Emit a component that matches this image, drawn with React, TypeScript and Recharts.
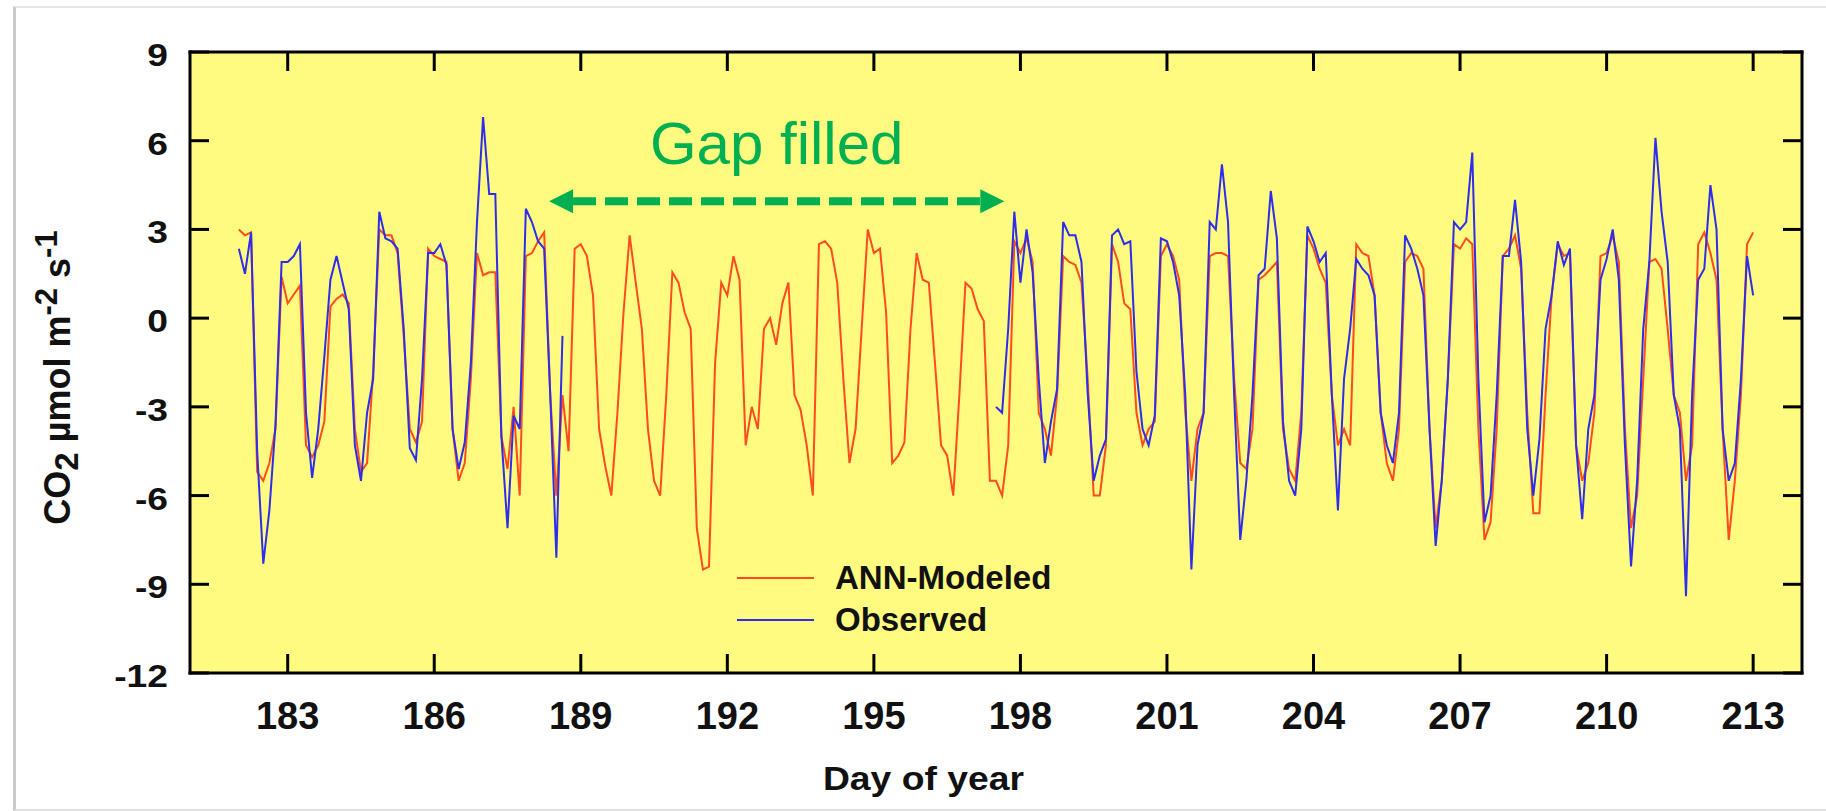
import React from "react";
import { LineChart, Line, XAxis, YAxis, CartesianGrid, ReferenceLine, Legend, Label } from "recharts";

// ---------- data ----------
const FIRST_DAY = 182;
const SAMPLES_PER_DAY = 8; // one value every 3 hours
const X_TICKS = [183, 186, 189, 192, 195, 198, 201, 204, 207, 210, 213];
const Y_TICKS = [-12, -9, -6, -3, 0, 3, 6, 9];
const X_DOMAIN: [number, number] = [181, 214];
const Y_DOMAIN: [number, number] = [-12, 9];
const SERIES_NAMES = ["ANN-Modeled", "Observed"];
const GAP_LABEL = "Gap filled";
const GAP_START = 188.35;
const GAP_END = 197.67;
const GAP_LEVEL = 3.95;

// ANN-modeled CO2 flux (µmol m-2 s-1), 8 values per day
const annModeled: number[] = [
  3.0, 2.8, 2.9, -5.2, -5.5, -4.9, -3.75, 1.4, // 182
  0.5, 0.8, 1.1, -4.3, -4.7, -4.3, -3.5, 0.4, // 183
  0.65, 0.8, 0.5, -3.75, -5.2, -4.9, -1.8, 3.0, // 184
  2.8, 2.8, 2.2, -0.6, -3.75, -4.2, -3.5, 2.35, // 185
  2.1, 2.0, 1.9, -3.75, -5.5, -4.9, -2.05, 2.2, // 186
  1.45, 1.55, 1.55, -4.0, -5.1, -3.0, -6.0, 2.1, // 187
  2.2, 2.6, 2.9, -2.6, -6.0, -2.6, -4.5, 2.35, // 188
  2.5, 2.1, 0.77, -3.75, -5.0, -6.0, -3.2, 0.2, // 189
  2.8, 1.2, -0.36, -3.75, -5.5, -6.0, -2.6, 1.55, // 190
  1.2, 0.2, -0.36, -7.1, -8.5, -8.4, -1.5, 1.2, // 191
  0.77, 2.1, 1.3, -4.3, -3.0, -3.75, -0.36, 0.0, // 192
  -0.9, 0.5, 1.2, -2.6, -3.1, -4.3, -6.0, 2.5, // 193
  2.6, 2.35, 1.2, -2.05, -4.9, -3.75, -0.36, 3.0, // 194
  2.2, 2.35, 0.2, -4.9, -4.65, -4.2, -0.36, 2.2, // 195
  1.3, 1.2, -1.5, -4.3, -4.65, -6.0, -2.6, 1.2, // 196
  1.0, 0.3, -0.1, -5.5, -5.5, -6.0, -4.3, 2.6, // 197
  2.2, 2.7, 1.9, -3.2, -3.75, -4.65, -2.6, 2.1, // 198
  1.9, 1.8, 1.2, -2.0, -6.0, -6.0, -4.3, 2.5, // 199
  1.9, 0.5, 0.3, -3.2, -4.3, -3.75, -3.5, 2.1, // 200
  2.5, 2.1, 1.3, -3.2, -5.5, -3.75, -3.2, 2.1, // 201
  2.2, 2.2, 2.1, -2.05, -4.9, -5.1, -3.75, 1.3, // 202
  1.45, 1.67, 1.9, -3.75, -5.1, -5.5, -3.2, 2.8, // 203
  2.35, 1.67, 1.2, -2.6, -4.3, -3.75, -4.3, 2.5, // 204
  2.2, 2.1, 0.77, -3.2, -4.9, -5.5, -3.75, 1.9, // 205
  2.2, 2.1, 1.67, -3.75, -7.1, -5.5, -2.05, 2.5, // 206
  2.35, 2.7, 2.5, -3.75, -7.5, -6.9, -3.75, 2.1, // 207
  2.35, 2.8, 1.67, -3.2, -6.6, -6.6, -2.6, 0.77, // 208
  2.5, 2.1, 2.2, -4.3, -5.5, -4.9, -3.2, 2.1, // 209
  2.2, 2.8, 1.9, -3.75, -7.1, -6.0, -2.05, 1.9, // 210
  2.0, 1.67, -0.36, -2.6, -3.2, -5.5, -4.3, 2.5, // 211
  2.9, 2.2, 1.3, -3.75, -7.5, -5.5, -2.6, 2.5, // 212
  2.9, // 213
];

// Observed CO2 flux, null where the record is missing (the gap)
const N = null;
const observed: (number | null)[] = [
  2.35, 1.5, 2.9, -4.5, -8.3, -6.5, -3.6, 1.9, // 182
  1.9, 2.1, 2.5, -3.2, -5.4, -3.75, -1.3, 1.3, // 183
  2.1, 1.2, 0.3, -4.3, -5.5, -3.2, -2.05, 3.6, // 184
  2.7, 2.6, 2.35, -0.36, -4.4, -4.8, -2.05, 2.2, // 185
  2.2, 2.5, 1.8, -3.75, -5.1, -4.2, -1.5, 3.25, // 186
  6.8, 4.2, 4.2, -4.0, -7.1, -3.3, -3.75, 3.7, // 187
  3.25, 2.6, 2.35, -2.6, -8.1, -0.6, N, N, // 188
  N, N, N, N, N, N, N, N, // 189
  N, N, N, N, N, N, N, N, // 190
  N, N, N, N, N, N, N, N, // 191
  N, N, N, N, N, N, N, N, // 192
  N, N, N, N, N, N, N, N, // 193
  N, N, N, N, N, N, N, N, // 194
  N, N, N, N, N, N, N, N, // 195
  N, N, N, N, N, N, N, N, // 196
  N, N, N, N, -3.0, -3.2, -0.36, 3.6, // 197
  1.2, 3.0, 1.55, -2.05, -4.9, -3.5, -2.4, 3.25, // 198
  2.8, 2.8, 1.9, -2.5, -5.5, -4.65, -4.1, 2.8, // 199
  3.0, 2.5, 2.6, -1.8, -3.75, -4.3, -3.3, 2.7, // 200
  2.6, 1.9, 0.77, -2.6, -8.5, -4.3, -3.2, 3.25, // 201
  3.0, 5.2, 3.25, -2.6, -7.5, -5.5, -2.6, 1.45, // 202
  1.67, 4.3, 2.7, -3.5, -5.5, -6.0, -3.75, 3.1, // 203
  2.6, 1.9, 2.2, -2.6, -6.5, -2.05, -0.36, 2.0, // 204
  1.67, 1.45, 0.77, -3.2, -4.3, -4.9, -3.2, 2.8, // 205
  2.35, 1.67, 0.77, -3.75, -7.7, -5.5, -2.05, 3.25, // 206
  3.0, 3.25, 5.6, -2.05, -6.9, -6.0, -2.6, 2.1, // 207
  2.1, 4.0, 1.9, -3.75, -6.0, -4.1, -0.36, 0.77, // 208
  2.6, 1.8, 2.35, -4.3, -6.8, -3.75, -2.6, 1.3, // 209
  2.0, 3.0, 1.3, -4.3, -8.4, -5.5, -0.36, 1.9, // 210
  6.1, 3.6, 1.9, -2.6, -3.75, -9.4, -2.6, 1.3, // 211
  1.67, 4.5, 3.0, -3.75, -5.5, -4.9, -2.05, 2.1, // 212
  0.77, // 213
];

const data = annModeled.map((v, i) => ({
  day: FIRST_DAY + i / SAMPLES_PER_DAY,
  modeled: v,
  observed: observed[i] ?? null,
}));

// ---------- styling ----------
const FONT = "'Liberation Sans', Arial, Helvetica, sans-serif";
const RED = "#FF4B1E";
const BLUE = "#2D2DEB";
const GREEN = "#00B050";
const BG = "#FFFB80";
const TICK_LEN = 19;
const AXIS = { stroke: "#000", strokeWidth: 3, strokeLinecap: "square" as const };

const BottomTick = (p: any) => (
  <g>
    <line x1={p.x} x2={p.x} y1={p.y} y2={p.y - TICK_LEN} stroke="#000" strokeWidth={3} />
    <text x={p.x} y={p.y + 56} textAnchor="middle" fontSize={38} fontWeight={700} fontFamily={FONT} fill="#111">
      {p.payload.value}
    </text>
  </g>
);
const TopTick = (p: any) => (
  <line x1={p.x} x2={p.x} y1={p.y} y2={p.y + TICK_LEN} stroke="#000" strokeWidth={3} />
);
const LeftTick = (p: any) => (
  <g>
    <line x1={p.x} x2={p.x + TICK_LEN} y1={p.y} y2={p.y} stroke="#000" strokeWidth={3} />
    <text
      transform={`translate(${p.x - 22},${p.y + 14}) scale(1.2,1)`}
      textAnchor="end"
      fontSize={31}
      fontWeight={700}
      fontFamily={FONT}
      fill="#111"
    >
      {p.payload.value}
    </text>
  </g>
);
const RightTick = (p: any) => (
  <line x1={p.x} x2={p.x - TICK_LEN} y1={p.y} y2={p.y} stroke="#000" strokeWidth={3} />
);

const XTitle = (p: any) => {
  const vb = p.viewBox;
  return (
    <text
      transform={`translate(${vb.x + vb.width * 0.455},${vb.y + 117}) scale(1.13,1)`}
      textAnchor="middle"
      fontSize={33}
      fontWeight={700}
      fontFamily={FONT}
      fill="#111"
    >
      Day of year
    </text>
  );
};

const YTitle = (p: any) => {
  const vb = p.viewBox;
  const cx = vb.x - 52;
  const cy = vb.y + vb.height / 2 + 15;
  return (
    <text
      transform={`translate(${cx + 12},${cy}) rotate(-90)`}
      textAnchor="middle"
      fontSize={36}
      fontWeight={700}
      fontFamily={FONT}
      fill="#111"
    >
      CO
      <tspan fontSize={33} dy={8}>2</tspan>
      <tspan dy={-8}> µmol m</tspan>
      <tspan fontSize={31} dy={-13}>-2</tspan>
      <tspan dy={13}> s</tspan>
      <tspan fontSize={31} dy={-13}>-1</tspan>
    </text>
  );
};

const GapArrow = (p: any) => {
  const { x1, x2, y1 } = p;
  const head = 24;
  const half = 12;
  const mid = (x1 + x2) / 2;
  return (
    <g>
      <line
        x1={x1 + head}
        x2={x2 - head}
        y1={y1}
        y2={y1}
        stroke={GREEN}
        strokeWidth={8}
        strokeDasharray="23 9"
      />
      <polygon points={`${x1},${y1} ${x1 + head},${y1 - half} ${x1 + head},${y1 + half}`} fill={GREEN} />
      <polygon points={`${x2},${y1} ${x2 - head},${y1 - half} ${x2 - head},${y1 + half}`} fill={GREEN} />
      <text x={mid} y={y1 - 37} textAnchor="middle" fontSize={60} fontFamily={FONT} fill={GREEN}>
        {GAP_LABEL}
      </text>
    </g>
  );
};

const LegendBox = () => (
  <div style={{ fontFamily: FONT, fontSize: 33, fontWeight: 700, lineHeight: "42px", color: "#111" }}>
    {[RED, BLUE].map((c, i) => (
      <div key={i} style={{ display: "flex", alignItems: "center", whiteSpace: "nowrap" }}>
        <span style={{ display: "inline-block", width: 77, height: 2, background: c, marginRight: 21 }} />
        <span>{SERIES_NAMES[i]}</span>
      </div>
    ))}
  </div>
);

export default function App() {
  return (
    <div style={{ position: "absolute", left: 0, top: 0, width: 1826, height: 811, background: "#fff", overflow: "hidden" }}>
      <div
        style={{
          position: "absolute",
          left: 13,
          top: 6,
          width: 1830,
          height: 801,
          borderLeft: "3px solid #c9c9c9",
          borderTop: "2px solid #e6e6e6",
          borderBottom: "2px solid #e2e2e2",
        }}
      />
      <LineChart
        width={1826}
        height={811}
        data={data}
        margin={{ top: 51, right: 23, bottom: 78, left: 110 }}
        style={{ position: "absolute", left: 0, top: 0 }}
      >
        <CartesianGrid fill={BG} horizontal={false} vertical={false} />
        <XAxis
          dataKey="day"
          type="number"
          domain={X_DOMAIN}
          ticks={X_TICKS}
          allowDataOverflow
          height={60}
          tickSize={0}
          tickMargin={0}
          tickLine={false}
          axisLine={AXIS}
          tick={<BottomTick />}
          interval={0}
        >
          <Label content={<XTitle />} />
        </XAxis>
        <XAxis
          xAxisId="top"
          orientation="top"
          dataKey="day"
          type="number"
          domain={X_DOMAIN}
          ticks={X_TICKS}
          allowDataOverflow
          height={1}
          tickSize={0}
          tickMargin={0}
          tickLine={false}
          axisLine={AXIS}
          tick={<TopTick />}
          interval={0}
        />
        <YAxis
          type="number"
          domain={Y_DOMAIN}
          ticks={Y_TICKS}
          allowDataOverflow
          width={80}
          tickSize={0}
          tickMargin={0}
          tickLine={false}
          axisLine={AXIS}
          tick={<LeftTick />}
          interval={0}
        >
          <Label content={<YTitle />} />
        </YAxis>
        <YAxis
          yAxisId="right"
          orientation="right"
          type="number"
          domain={Y_DOMAIN}
          ticks={Y_TICKS}
          allowDataOverflow
          width={1}
          tickSize={0}
          tickMargin={0}
          tickLine={false}
          axisLine={AXIS}
          tick={<RightTick />}
          interval={0}
        />
        <Line
          dataKey="modeled"
          name={SERIES_NAMES[0]}
          type="linear"
          stroke={RED}
          strokeWidth={2}
          dot={false}
          isAnimationActive={false}
        />
        <Line
          dataKey="observed"
          name={SERIES_NAMES[1]}
          type="linear"
          stroke={BLUE}
          strokeWidth={2}
          dot={false}
          connectNulls={false}
          isAnimationActive={false}
        />
        <ReferenceLine
          segment={[
            { x: GAP_START, y: GAP_LEVEL },
            { x: GAP_END, y: GAP_LEVEL },
          ]}
          shape={<GapArrow />}
        />
        <Legend
          layout="vertical"
          align="center"
          verticalAlign="middle"
          content={<LegendBox />}
          wrapperStyle={{ position: "absolute", left: 737, top: 557, width: "auto" }}
        />
      </LineChart>
    </div>
  );
}
